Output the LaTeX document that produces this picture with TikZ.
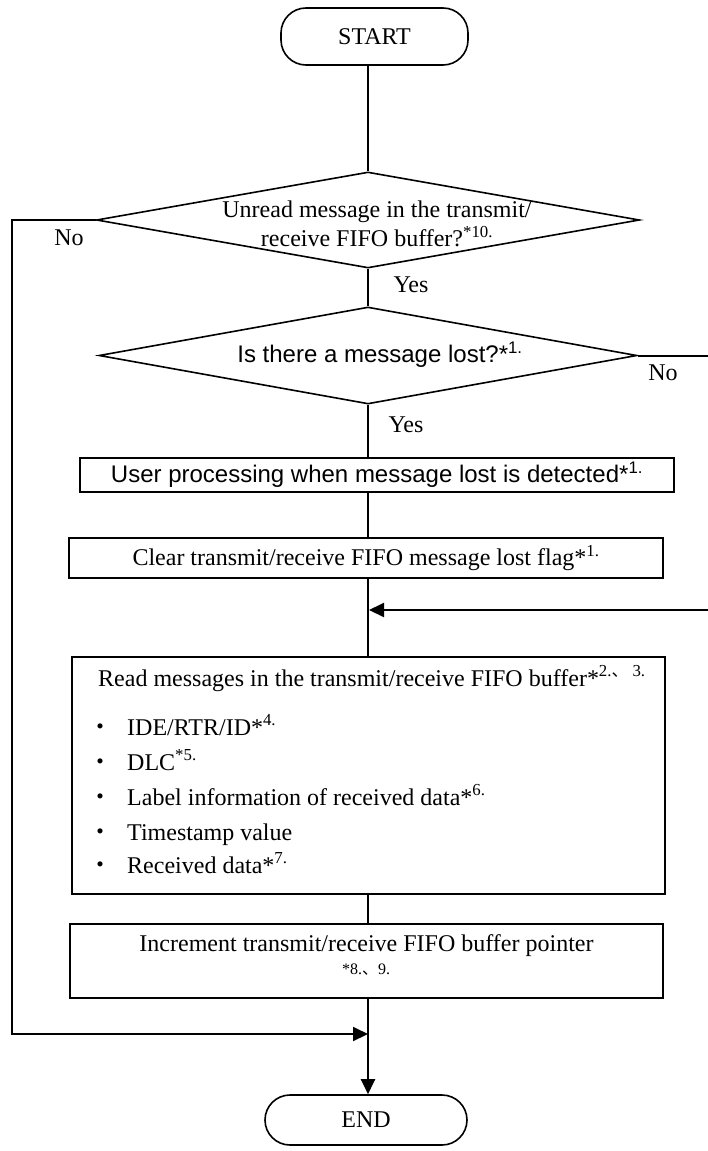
\documentclass[tikz,border=0pt]{standalone}
\usepackage{fontspec}
\setmainfont{Liberation Serif}
\newfontfamily\arial{Liberation Sans}
\newfontfamily\cjk{Noto Sans CJK JP}
\usetikzlibrary{shapes.geometric,arrows.meta}

\begin{document}
\begin{tikzpicture}[x=1pt,y=-1pt,
  every node/.style={font=\fontsize{24}{29}\selectfont},
  sansfont/.style={font=\arial\fontsize{24}{29}\selectfont},
  term/.style={draw, line width=1.6pt, rounded corners=25pt, inner sep=0pt},
  procbox/.style={draw, line width=1.6pt, inner sep=0pt},
  decision/.style={draw, diamond, line width=1.6pt, inner sep=0pt},
  flow/.style={line width=2pt},
  flowarrow/.style={line width=2pt, -{Triangle[length=15pt,width=14pt]}},
  lbl/.style={inner sep=0pt}
]
\useasboundingbox (0,0) rectangle (708,1151);
\clip (0,0) rectangle (708,1151);

% terminators
\node[term, minimum width=187pt, minimum height=57pt] (start) at (374.5,36.5) {START};
\node[term, minimum width=202pt, minimum height=50pt] (end) at (366,1120) {END};

% decisions
\node[decision, minimum width=543pt, minimum height=96pt] (d1) at (368,220) {};
\node[lbl, align=center] (d1t) at (377,224)
  {Unread message in the transmit/\\receive FIFO buffer?\textsuperscript{*10.}};
\node[decision, minimum width=538pt, minimum height=97pt] (d2) at (368,355.5) {};
\node[lbl, sansfont] (d2t) at (380,355) {Is there a message lost?*\textsuperscript{1.}};

% processing steps
\node[procbox, sansfont, minimum width=594pt, minimum height=34pt] (b3) at (377,475)
  {User processing when message lost is detected*\textsuperscript{1.}};
\node[procbox, minimum width=594pt, minimum height=40pt] (b4) at (366,558)
  {Clear transmit/receive FIFO message lost flag*\textsuperscript{1.}};
\node[procbox, minimum width=593pt, minimum height=237pt] (b5) at (368.5,775.5) {};
\node[procbox, minimum width=593pt, minimum height=74pt] (b6) at (366.5,961) {};

% contents of the read step
\node[lbl, anchor=base west] (r0) at (98,686)
  {Read messages in the transmit/receive FIFO buffer*\textsuperscript{2.{\cjk 、} 3.}};
\node[lbl, anchor=base] (k1) at (100,735) {{\cjk ・}};
\node[lbl, anchor=base] (k2) at (100,770) {{\cjk ・}};
\node[lbl, anchor=base] (k3) at (100,805) {{\cjk ・}};
\node[lbl, anchor=base] (k4) at (100,840) {{\cjk ・}};
\node[lbl, anchor=base] (k5) at (100,873) {{\cjk ・}};
\node[lbl, anchor=base west] (i1) at (127,735) {IDE/RTR/ID*\textsuperscript{4.}};
\node[lbl, anchor=base west] (i2) at (127,770) {DLC\textsuperscript{*5.}};
\node[lbl, anchor=base west] (i3) at (127,805) {Label information of received data*\textsuperscript{6.}};
\node[lbl, anchor=base west] (i4) at (127,840) {Timestamp value};
\node[lbl, anchor=base west] (i5) at (127,873) {Received data*\textsuperscript{7.}};

% contents of the pointer step
\node[lbl, anchor=base] (b6t) at (366.5,951) {Increment transmit/receive FIFO buffer pointer};
\node[lbl, anchor=base, font=\fontsize{16}{18}\selectfont] (b6n) at (366,974) {*8.{\cjk 、}9.};

% branch labels
\node[lbl] (no1) at (69,238) {No};
\node[lbl] (yes1) at (411,285) {Yes};
\node[lbl] (no2) at (663,373) {No};
\node[lbl] (yes2) at (406,425) {Yes};

% main flow
\draw[flow] (start.south -| d1.north) -- (d1.north);
\draw[flow] (d1.south) -- (d2.north);
\draw[flow] (d2.south) -- (d2.south |- b3.north);
\draw[flow] (b3.south -| d2.south) -- (b4.north -| d2.south);
\draw[flow] (b4.south -| d2.south) -- (b5.north -| d2.south);
\draw[flow] (b5.south -| d2.south) -- (b6.north -| d2.south);
\draw[flowarrow] (b6.south -| d2.south) -- (end.north -| d2.south);

% "No" branches
\coordinate (lc) at (12,220);
\coordinate (lj) at (368,1034);
\draw[flowarrow] (d1.west) -- (lc) |- (lj);
\coordinate (rc) at (709,355.5);
\coordinate (rj) at (369,610);
\draw[flowarrow] (d2.east) -- (rc) |- (rj);
\end{tikzpicture}
\end{document}
